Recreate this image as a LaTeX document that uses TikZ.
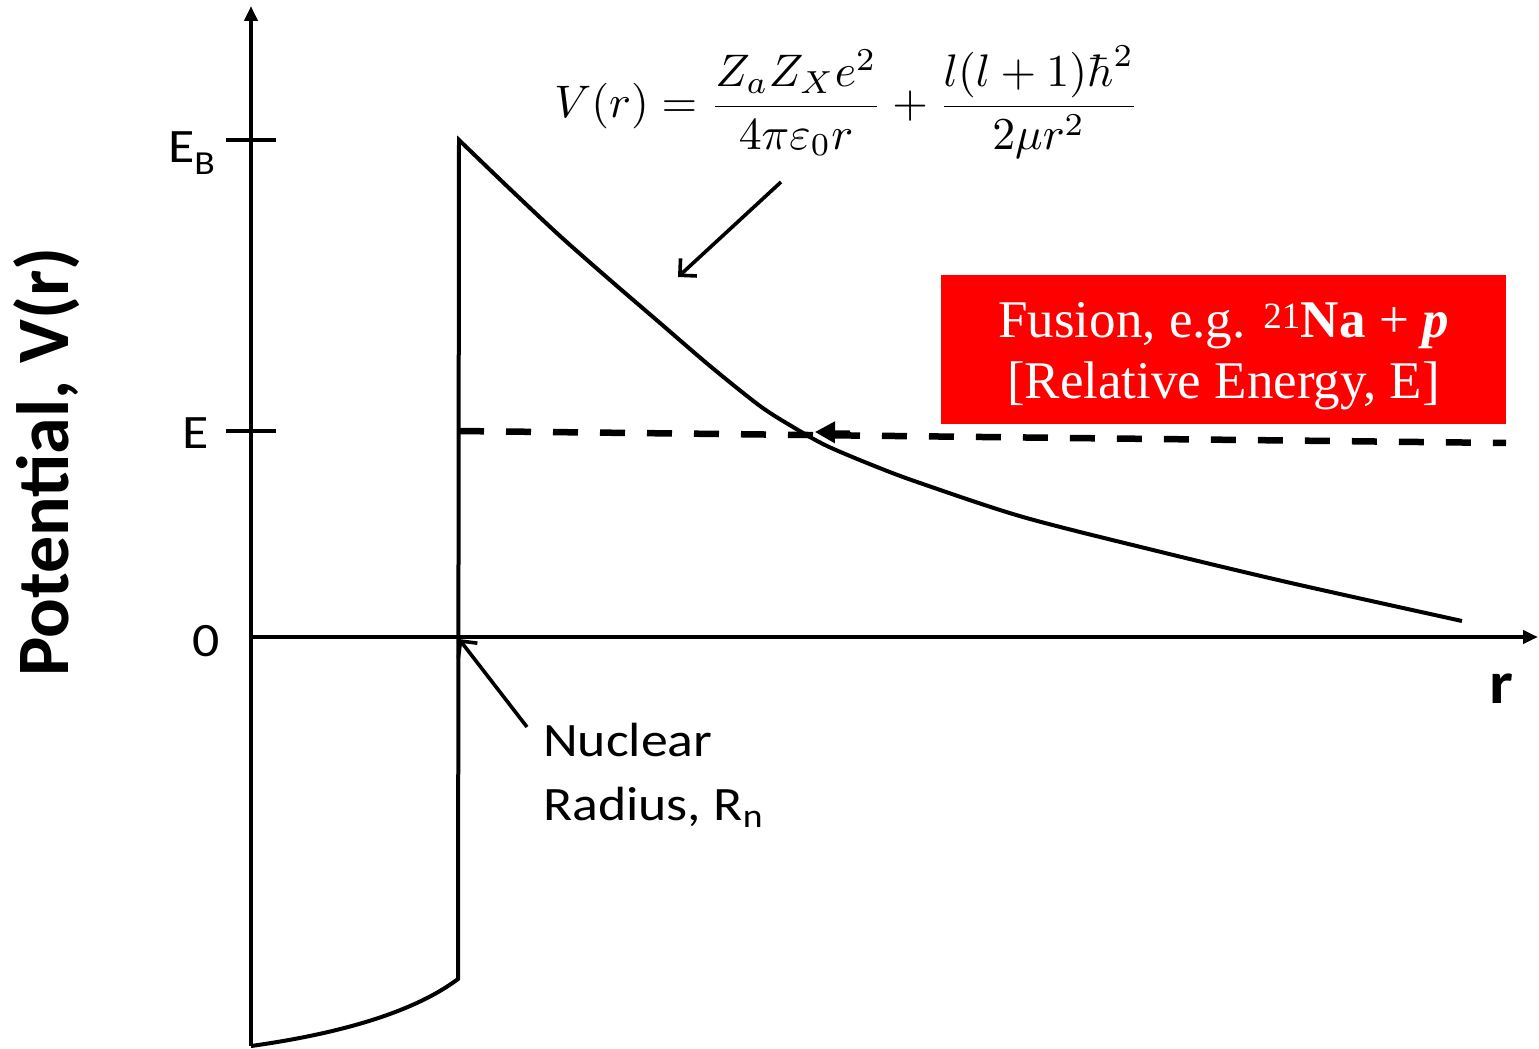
\documentclass[tikz,border=0pt]{standalone}
\usepackage{fontspec}
\usepackage{graphicx}
\usetikzlibrary{arrows.meta}
\newfontfamily\lbl[FakeStretch=1.12]{Carlito}
\newfontfamily\ylbl{Carlito}
\newfontfamily\boxfont{Liberation Serif}
\begin{document}
\begin{tikzpicture}[x=1pt,y=-1pt,
  ax/.style={line width=4.2pt},
  curve/.style={line width=4pt, line join=miter},
  dashline/.style={line width=6.5pt, dash pattern=on 25pt off 22pt},
  pointer/.style={line width=3.6pt, -{Straight Barb[length=12pt,width=24pt]}},
  axtip/.style={-{Triangle[length=15pt,width=13pt]}},
  lblstyle/.style={font=\lbl\fontsize{48}{48}\selectfont, inner sep=0pt},
  fusionbox/.style={fill=red, minimum width=565pt, minimum height=149pt, inner sep=0pt},
  fusiontext/.style={text=white, inner sep=0pt, align=center, font=\boxfont\fontsize{53}{61}\selectfont}]
\useasboundingbox (0,0) rectangle (1539,1049);
% key points
\coordinate (O) at (251,637);
\coordinate (ytop) at (251,6);
\coordinate (ybot) at (251,1046);
\coordinate (xend) at (1538,637);
\coordinate (peak) at (459,140);
\coordinate (wallbot) at (458,979);
\coordinate (wallaxis) at (459,639);
% axes
\draw[ax,axtip] (ybot) -- (ytop);
\draw[ax,axtip] (O) -- (xend);
\draw[ax] (226,140) -- (276,140);
\draw[ax] (226,431) -- (276,431);
% potential
\draw[curve] (ybot) .. controls (330,1035) and (410,1015) .. (wallbot) -- (peak)
  -- plot[smooth, tension=0.5] coordinates {(459,140) (510,189) (560,236) (610,280) (660,323) (710,366) (760,406) (793,427) (827,446) (877,467) (920,483) (1023,517) (1157,551) (1291,583) (1462,621)};
% energy line
\draw[dashline] (459,431) -- (1506,443);
\draw[line width=4pt, -{Triangle[length=20pt,width=21pt]}] (850,432.5) -- (815,432);
% formula
\node (formula) at (847,102) {\resizebox*{585pt}{112pt}{$\displaystyle V(r) = \frac{Z_aZ_Xe^2}{4\pi\varepsilon_0 r}+\frac{l(l+1)\hbar^2}{2\mu r^2}$}};
\coordinate (fstart) at (781,182);
\coordinate (fend) at (678,277);
\draw[pointer] (fstart) -- (fend);
% fusion box
\node[fusionbox] (fusion) at (1223.5,349.5) {};
\node[fusiontext] (fusionlbl) at ([yshift=-7pt]fusion.center) {Fusion, e.g. \textsuperscript{21}\textbf{Na} + \textbf{\textit{p}}\\{[}Relative Energy, E{]}};
% labels
\node[lblstyle, anchor=base west] (EB) at (168,162) {E\textsubscript{B}};
\node[lblstyle, anchor=base west] (E) at (182,448) {E};
\node[lblstyle, anchor=base west] (zero) at (192,656) {0};
\node[lblstyle, anchor=base west] (nuc1) at (543,756) {Nuclear};
\node[lblstyle, anchor=base west] (nuc2) at (543,820) {Radius, R\textsubscript{n}};
\coordinate (nstart) at (527,727);
\draw[pointer] (nstart) -- (wallaxis);
\node[font=\lbl\bfseries\fontsize{60}{60}\selectfont, anchor=base west, inner sep=0pt] (rlab) at (1489,703) {r};
\node[rotate=90, font=\ylbl\bfseries\fontsize{74}{74}\selectfont, inner sep=0pt] (ylab) at (47,462) {Potential, V(r)};
\end{tikzpicture}
\end{document}
